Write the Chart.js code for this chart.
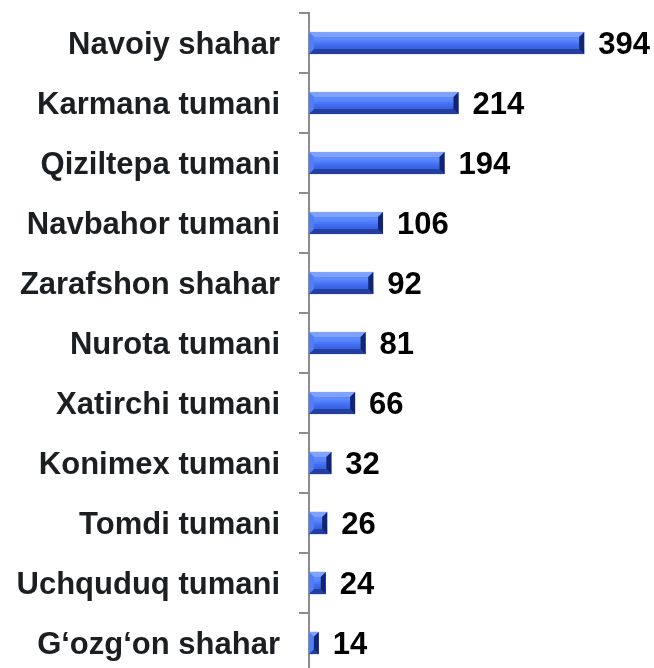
<!DOCTYPE html>
<html>
<head>
<meta charset="utf-8">
<script src="https://cdn.jsdelivr.net/npm/chart.js@4"></script>
<style>
  html, body { margin: 0; padding: 0; background: #fff; overflow: hidden; }
  canvas { display: block; }
</style>
</head>
<body>
<canvas id="myChart" width="654" height="680"></canvas>
<script>
const districts = [
  'Navoiy shahar', 'Karmana tumani', 'Qiziltepa tumani', 'Navbahor tumani',
  'Zarafshon shahar', 'Nurota tumani', 'Xatirchi tumani', 'Konimex tumani',
  'Tomdi tumani', 'Uchquduq tumani', 'G\u2018ozg\u2018on shahar'
];
const counts = [394, 214, 194, 106, 92, 81, 66, 32, 26, 24, 14];

const FONT = "'Liberation Sans', Arial, sans-serif";

// bevelled look for each bar, drawn on top of the plain fill
const bevelBars = {
  id: 'bevelBars',
  afterDatasetsDraw(chart) {
    const ctx = chart.ctx;
    chart.getDatasetMeta(0).data.forEach((bar) => {
      const p = bar.getProps(['x', 'y', 'base', 'height'], true);
      const l = p.base, r = p.x, t = p.y - p.height / 2, b = p.y + p.height / 2;
      const w = r - l;
      const bv = Math.min(5, w / 2);
      ctx.save();
      const g = ctx.createLinearGradient(0, t, 0, b);
      g.addColorStop(0, '#5f8af9');
      g.addColorStop(0.35, '#5b89ff');
      g.addColorStop(0.6, '#3f6cf0');
      g.addColorStop(1, '#2b4fc4');
      ctx.fillStyle = g;
      ctx.fillRect(l, t, w, b - t);

      const poly = (pts, col) => {
        ctx.beginPath();
        ctx.moveTo(pts[0][0], pts[0][1]);
        pts.slice(1).forEach(q => ctx.lineTo(q[0], q[1]));
        ctx.closePath();
        ctx.fillStyle = col;
        ctx.fill();
      };
      poly([[l, t], [r, t], [r - bv, t + bv], [l + bv, t + bv]], '#7fa2fd');
      poly([[l, b], [r, b], [r - bv, b - bv], [l + bv, b - bv]], '#233fa0');
      poly([[l, t], [l + bv, t + bv], [l + bv, b - bv], [l, b]], '#517ef4');
      poly([[r, t], [r - bv, t + bv], [r - bv, b - bv], [r, b]], '#14256e');
      ctx.restore();
    });
  }
};

// value printed just past the end of each bar
const valueLabels = {
  id: 'valueLabels',
  afterDatasetsDraw(chart) {
    const ctx = chart.ctx;
    const ds = chart.data.datasets[0];
    ctx.save();
    ctx.font = 'bold 31px ' + FONT;
    ctx.fillStyle = '#000';
    ctx.textAlign = 'left';
    ctx.textBaseline = 'middle';
    chart.getDatasetMeta(0).data.forEach((bar, i) => {
      ctx.fillText(String(ds.data[i]), bar.x + 14, bar.y + 2);
    });
    ctx.restore();
  }
};

new Chart(document.getElementById('myChart'), {
  type: 'bar',
  data: {
    labels: districts,
    datasets: [{
      data: counts,
      backgroundColor: '#3b68ea',
      borderWidth: 0,
      barPercentage: 0.37,
      categoryPercentage: 1
    }]
  },
  options: {
    indexAxis: 'y',
    responsive: false,
    animation: false,
    layout: { padding: { top: 13, bottom: 7, left: 0, right: 0 } },
    plugins: {
      legend: { display: false },
      tooltip: { enabled: false }
    },
    scales: {
      x: {
        display: false,
        min: 0,
        max: 494
      },
      y: {
        afterFit: (scale) => {
          scale.width = 309;
          scale.paddingTop = 0;
          scale.paddingBottom = 0;
        },
        border: { display: true, color: '#8c8c8c', width: 2 },
        grid: {
          drawOnChartArea: false,
          drawTicks: true,
          tickLength: 10,
          color: '#8c8c8c',
          lineWidth: 2
        },
        ticks: {
          padding: 19,
          labelOffset: 2,
          color: '#1b1f22',
          font: { family: FONT, size: 31, weight: 'bold' }
        }
      }
    }
  },
  plugins: [bevelBars, valueLabels]
});
</script>
</body>
</html>
